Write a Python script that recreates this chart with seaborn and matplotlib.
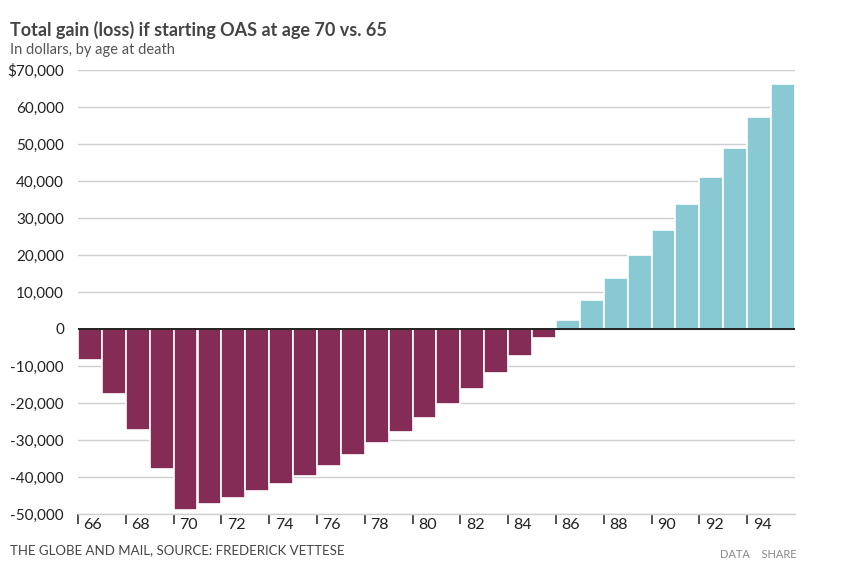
import pandas as pd
import matplotlib
matplotlib.use("Agg")
import matplotlib.pyplot as plt
import seaborn as sns

# Data
ages = list(range(66, 96))
gain = [-8400, -17600, -27300, -37800, -48800, -47300, -45600, -43900, -41800, -39600,
        -36900, -34100, -30800, -27800, -24100, -20300, -16200, -11900, -7300, -2400,
        2300, 7900, 13800, 20100, 26700, 33800, 41100, 49000, 57300, 66200]
y_ticks = [-50000, -40000, -30000, -20000, -10000, 0, 10000, 20000, 30000, 40000, 50000, 60000, 70000]
x_labels = list(range(66, 96, 2))

maroon = "#852c56"
teal = "#89c9d4"

df = pd.DataFrame({"age": ages, "gain": gain})
df["sign"] = ["loss" if v < 0 else "gain" for v in df["gain"]]

sns.set_style("white")
plt.rcParams["font.family"] = ["Lato", "DejaVu Sans"]

fig = plt.figure(figsize=(8.42, 5.85), dpi=100)
ax = fig.add_axes([78 / 842, 1 - 514 / 585, (795 - 78) / 842, (514 - 70) / 585])

sns.barplot(data=df, x="age", y="gain", hue="sign", palette={"loss": maroon, "gain": teal},
            dodge=False, width=1.0, saturation=1, edgecolor="white", linewidth=1.2,
            legend=False, ax=ax, zorder=3)

ax.set_xlim(-0.5, len(ages) - 0.5)
ax.set_ylim(-50000, 70000)

# gridlines
ax.set_yticks(y_ticks)
ax.yaxis.grid(True, color="#cfcfcf", linewidth=1, zorder=0)
ax.axhline(0, color="#111111", linewidth=1.3, zorder=4)
labels = []
for v in y_ticks:
    s = f"{v:,}"
    if v == y_ticks[-1]:
        s = "$" + s
    labels.append(s)
ax.set_yticklabels(labels, fontsize=11, color="#222222")
ax.tick_params(axis="y", left=False, length=0, pad=10)

# x ticks at left bar edges, labels beside them
pos = [ages.index(a) for a in x_labels]
ax.set_xticks([p - 0.5 for p in pos])
ax.set_xticklabels([])
ax.tick_params(axis="x", which="major", bottom=True, length=7, width=1.2,
               color="#333333", direction="out")
ax.set_xticks([p + 0.12 for p in pos], minor=True)
ax.set_xticklabels([str(a) for a in x_labels], minor=True, fontsize=11.5, color="#222222")
ax.tick_params(axis="x", which="minor", bottom=True, length=0, pad=3)
ax.set_xlabel("")
ax.set_ylabel("")

for s in ["top", "right", "left"]:
    ax.spines[s].set_visible(False)
ax.spines["bottom"].set_color("#cfcfcf")
ax.spines["bottom"].set_linewidth(1)

fig.text(10 / 842, 1 - 30 / 585, "Total gain (loss) if starting OAS at age 70 vs. 65",
         fontsize=13, fontweight="bold", color="#444444", va="center", ha="left")
fig.text(10 / 842, 1 - 50 / 585, "In dollars, by age at death",
         fontsize=10.5, color="#555555", va="center", ha="left")
fig.text(10 / 842, 1 - 550 / 585, "THE GLOBE AND MAIL, SOURCE: FREDERICK VETTESE",
         fontsize=9.5, color="#444444", va="center", ha="left")
fig.text(797 / 842, 1 - 555 / 585, "DATA    SHARE",
         fontsize=8, color="#888888", va="center", ha="right")

fig.savefig("out.png", dpi=100)
